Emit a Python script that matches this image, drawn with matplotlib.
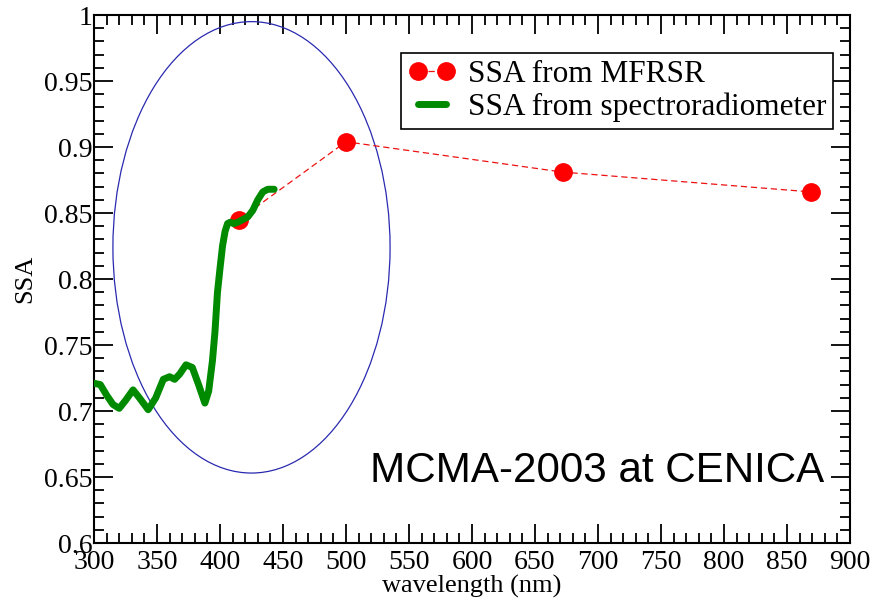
import numpy as np
import matplotlib
matplotlib.use("Agg")
import matplotlib.pyplot as plt
from matplotlib.patches import Ellipse
from matplotlib.ticker import MultipleLocator

# SSA retrieved from the MFRSR channels
mfrsr_wl = [415, 500, 672, 869]
mfrsr_ssa = [0.845, 0.904, 0.881, 0.866]

# SSA from the spectroradiometer (UV/visible part)
spec_wl = [300, 305, 310, 315, 320, 325, 331, 336, 343, 349, 355, 360, 364,
           368, 373, 378, 383, 388, 391, 394, 396, 398, 400, 402, 404, 406,
           408, 411, 414, 418, 422, 426, 430, 434, 438, 443]
spec_ssa = [0.721, 0.720, 0.712, 0.705, 0.702, 0.708, 0.716, 0.710, 0.701,
            0.710, 0.724, 0.726, 0.724, 0.728, 0.735, 0.733, 0.720, 0.706,
            0.715, 0.738, 0.760, 0.790, 0.808, 0.825, 0.836, 0.842, 0.843,
            0.842, 0.843, 0.845, 0.847, 0.852, 0.860, 0.866, 0.868, 0.868]

yticks = [0.6, 0.65, 0.7, 0.75, 0.8, 0.85, 0.9, 0.95, 1.0]
ytick_labels = ["0.6", "0.65", "0.7", "0.75", "0.8", "0.85", "0.9", "0.95", "1"]

serif = "Liberation Serif"

fig = plt.figure(figsize=(8.82, 6.01), dpi=100)
ax = fig.add_axes([0.1066, 0.0965, 0.857, 0.8785])

ax.plot(mfrsr_wl, mfrsr_ssa, color="#ee1111", ls=(0, (5, 3)), lw=0.9,
        marker="o", ms=12.5, mfc="red", mec="red", label="SSA from MFRSR", zorder=3)
ax.plot(spec_wl, spec_ssa, color="#008a00", lw=5, solid_capstyle="round",
        label="SSA from spectroradiometer", zorder=4)

# highlight the region where both measurements overlap
ax.add_patch(Ellipse((425, 0.824), 220, 0.342, fill=False,
                     edgecolor="#2a2ab0", lw=0.9, zorder=2))

ax.set_xlim(300, 900)
ax.set_ylim(0.6, 1.0)
ax.xaxis.set_major_locator(MultipleLocator(50))
ax.xaxis.set_minor_locator(MultipleLocator(10))
ax.yaxis.set_minor_locator(MultipleLocator(0.01))
ax.set_yticks(yticks)
ax.set_yticklabels(ytick_labels)

ax.tick_params(which="both", direction="in", top=True, right=True, width=1.3)
ax.tick_params(which="major", length=14, labelsize=20)
ax.tick_params(which="minor", length=7)
ax.tick_params(axis="x", which="major", pad=5)
ax.tick_params(axis="y", which="major", pad=1)
for lab in ax.get_xticklabels() + ax.get_yticklabels():
    lab.set_fontfamily(serif)
for sp in ax.spines.values():
    sp.set_linewidth(1.5)

ax.set_xlabel("wavelength (nm)", fontsize=19, fontfamily=serif, labelpad=0)
ax.set_ylabel("SSA", fontsize=19, fontfamily=serif, labelpad=6)

leg = ax.legend(loc="upper right", bbox_to_anchor=(0.9775, 0.928),
                borderaxespad=0, fancybox=False, framealpha=1,
                prop={"family": serif, "size": 22.5}, handlelength=1.5,
                handletextpad=0.4, labelspacing=0.12, borderpad=0.22,
                numpoints=2)
leg.get_frame().set_edgecolor("black")
leg.get_frame().set_linewidth(1.2)

ax.text(0.365, 0.1155, "MCMA-2003 at CENICA", transform=ax.transAxes,
        fontsize=30.3, fontfamily="Liberation Sans", va="baseline", ha="left")

fig.savefig("out.png", dpi=100)
